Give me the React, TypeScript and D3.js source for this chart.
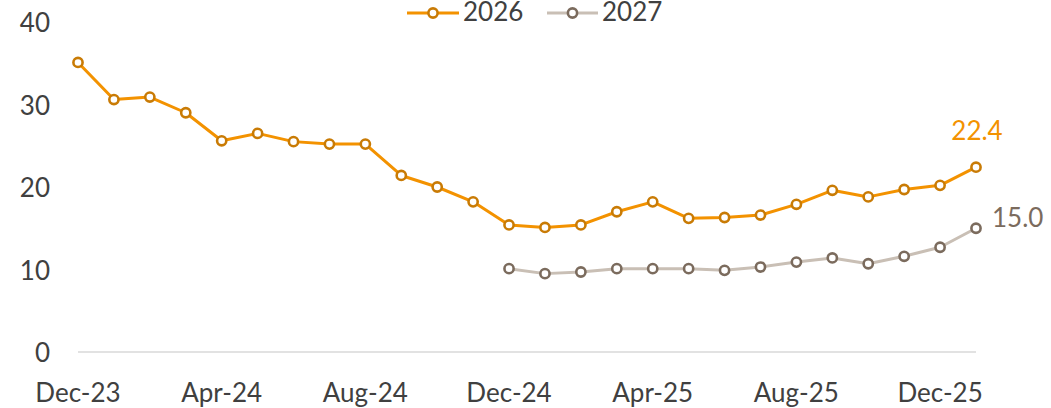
import React from "react";
import * as d3 from "d3";

const months = [
  "Dec-23", "Jan-24", "Feb-24", "Mar-24", "Apr-24", "May-24", "Jun-24", "Jul-24", "Aug-24",
  "Sep-24", "Oct-24", "Nov-24", "Dec-24", "Jan-25", "Feb-25", "Mar-25", "Apr-25", "May-25",
  "Jun-25", "Jul-25", "Aug-25", "Sep-25", "Oct-25", "Nov-25", "Dec-25", "Jan-26",
];
const tickLabels = ["Dec-23", "Apr-24", "Aug-24", "Dec-24", "Apr-25", "Aug-25", "Dec-25"];
const yTicks = [0, 10, 20, 30, 40];

const series2026: (number | null)[] = [
  35.1, 30.6, 30.9, 29.0, 25.6, 26.5, 25.5, 25.2, 25.2, 21.4, 20.0, 18.2, 15.4,
  15.1, 15.4, 17.0, 18.2, 16.2, 16.3, 16.6, 17.9, 19.6, 18.8, 19.7, 20.2, 22.4,
];
const series2027: (number | null)[] = [
  null, null, null, null, null, null, null, null, null, null, null, null, 10.1,
  9.5, 9.7, 10.1, 10.1, 10.1, 9.9, 10.3, 10.9, 11.4, 10.7, 11.6, 12.7, 15.0,
];

const seriesNames = ["2026", "2027"];

const W = 1051;
const H = 408;
const FONT = "Lato, 'Open Sans', sans-serif";
const TEXT = "#404040";

const ORANGE_LINE = "#F39200";
const ORANGE_MARK = "#C97B05";
const GREY_LINE = "#C9BFB5";
const GREY_MARK = "#7B6B5D";

export default function App() {
  const x = d3.scalePoint<string>().domain(months).range([78, 976]);
  const y = d3.scaleLinear().domain([0, 40]).range([352, 22]);

  const line = d3
    .line<number | null>()
    .defined((d) => d != null)
    .x((_, i) => x(months[i]) as number)
    .y((d) => y(d as number));

  const series = [
    { name: seriesNames[0], data: series2026, lc: ORANGE_LINE, mc: ORANGE_MARK },
    { name: seriesNames[1], data: series2027, lc: GREY_LINE, mc: GREY_MARK },
  ];

  const last = months.length - 1;
  const lx = x(months[last]) as number;

  const legend = [
    { name: seriesNames[0], x0: 407, x1: 459, tx: 463, lc: ORANGE_LINE, mc: ORANGE_MARK },
    { name: seriesNames[1], x0: 547, x1: 598, tx: 602, lc: GREY_LINE, mc: GREY_MARK },
  ];

  return (
    <div style={{ position: "absolute", left: 0, top: 0 }}>
      <svg width={W} height={H} style={{ display: "block", background: "#fff" }}>
        {/* zero baseline */}
        <line x1={x(months[0])} x2={lx} y1={y(0)} y2={y(0)} stroke="#D9D9D9" strokeWidth={1.5} />

        {/* y axis labels */}
        {yTicks.map((t) => (
          <text
            key={t}
            x={50}
            y={y(t)}
            textAnchor="end"
            dominantBaseline="central"
            fontFamily={FONT}
            fontSize={26}
            fill={TEXT}
          >
            {t}
          </text>
        ))}

        {/* x axis labels */}
        {tickLabels.map((m) => (
          <text
            key={m}
            x={x(m)}
            y={402}
            textAnchor="middle"
            fontFamily={FONT}
            fontSize={26}
            fill={TEXT}
          >
            {m}
          </text>
        ))}

        {/* series */}
        {series.map((s) => (
          <g key={s.name}>
            <path d={line(s.data) || ""} fill="none" stroke={s.lc} strokeWidth={3} strokeLinejoin="round" />
            {s.data.map((v, i) =>
              v == null ? null : (
                <circle
                  key={i}
                  cx={x(months[i])}
                  cy={y(v)}
                  r={4.6}
                  fill="#fff"
                  stroke={s.mc}
                  strokeWidth={2.6}
                />
              )
            )}
          </g>
        ))}

        {/* data labels */}
        <text
          x={lx + 1}
          y={y(series2026[last] as number) - 27}
          textAnchor="middle"
          fontFamily={FONT}
          fontSize={26}
          fill={ORANGE_LINE}
        >
          {(series2026[last] as number).toFixed(1)}
        </text>
        <text
          x={lx + 16}
          y={y(series2027[last] as number) - 1}
          textAnchor="start"
          fontFamily={FONT}
          fontSize={26}
          fill={GREY_MARK}
        >
          {(series2027[last] as number).toFixed(1)}
        </text>

        {/* legend */}
        {legend.map((l) => (
          <g key={l.name}>
            <line x1={l.x0} x2={l.x1} y1={13} y2={13} stroke={l.lc} strokeWidth={3} />
            <circle cx={(l.x0 + l.x1) / 2} cy={13} r={4.6} fill="#fff" stroke={l.mc} strokeWidth={2.6} />
            <text x={l.tx} y={21} fontFamily={FONT} fontSize={26} fill={TEXT}>
              {l.name}
            </text>
          </g>
        ))}
      </svg>
    </div>
  );
}
